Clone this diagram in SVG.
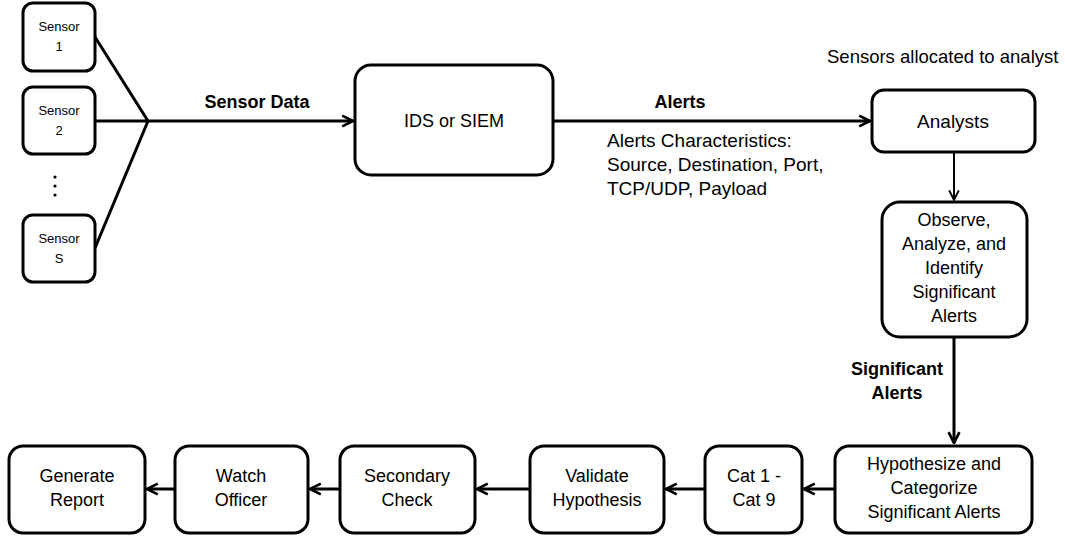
<svg xmlns="http://www.w3.org/2000/svg" width="1065" height="537" viewBox="0 0 1065 537">
  <style>
    .box { fill: #fff; stroke: #000; stroke-width: 3; }
    .lbl { font-family: "Liberation Sans", Arial, sans-serif; font-size: 18px; fill: #000; text-anchor: middle; }
    .sm { font-size: 13px; }
    .b { font-weight: bold; font-size: 18px; }
    .note { font-family: "Liberation Sans", Arial, sans-serif; font-size: 19px; fill: #000; }
    .wire { fill: none; stroke: #000; stroke-width: 3; }
    .thin { fill: none; stroke: #000; stroke-width: 2; }
  </style>
  <defs>
    <marker id="chev" viewBox="0 0 10 10" refX="9" refY="5" markerWidth="4.5" markerHeight="4.5" orient="auto" markerUnits="strokeWidth">
      <path d="M1,1 L9,5 L1,9" fill="none" stroke="#000" stroke-width="2"/>
    </marker>
    <marker id="chevT" viewBox="0 0 10 10" refX="9" refY="5" markerWidth="6" markerHeight="6" orient="auto" markerUnits="strokeWidth">
      <path d="M1,1 L9,5 L1,9" fill="none" stroke="#000" stroke-width="1.6"/>
    </marker>
  </defs>

  <!-- connectors -->
  <g id="connectors">
    <path class="wire" d="M95,37 L148,121 M95,121 L148,121 M95,248 L148,121"/>
    <line class="wire" x1="148" y1="121" x2="353" y2="121" marker-end="url(#chev)"/>
    <line class="wire" x1="553" y1="121" x2="870" y2="121" marker-end="url(#chev)"/>
    <line class="thin" x1="954" y1="152" x2="954" y2="200" marker-end="url(#chevT)"/>
    <line class="wire" x1="954" y1="337" x2="954" y2="443" marker-end="url(#chev)"/>
    <line class="wire" x1="835" y1="489" x2="804" y2="489" marker-end="url(#chev)"/>
    <line class="wire" x1="705" y1="489" x2="666" y2="489" marker-end="url(#chev)"/>
    <line class="wire" x1="530" y1="489" x2="477" y2="489" marker-end="url(#chev)"/>
    <line class="wire" x1="340" y1="489" x2="310" y2="489" marker-end="url(#chev)"/>
    <line class="wire" x1="175" y1="489" x2="147" y2="489" marker-end="url(#chev)"/>
  </g>

  <!-- connector labels -->
  <text class="lbl b" x="257" y="108">Sensor Data</text>
  <text class="lbl b" x="680" y="108">Alerts</text>
  <text class="note" x="607" y="147">Alerts Characteristics:</text>
  <text class="note" x="607" y="171">Source, Destination, Port,</text>
  <text class="note" x="607" y="195">TCP/UDP, Payload</text>
  <text class="note" x="827" y="63" style="font-size:18.5px">Sensors allocated to analyst</text>
  <text class="lbl b" x="897" y="375">Significant</text>
  <text class="lbl b" x="897" y="399">Alerts</text>

  <!-- sensor dots -->
  <g id="dots" fill="#000">
    <circle cx="55" cy="177" r="1.6"/>
    <circle cx="55" cy="186" r="1.6"/>
    <circle cx="55" cy="195" r="1.6"/>
  </g>

  <g id="sensor1">
    <rect class="box" x="23" y="3" width="72" height="68" rx="10"/>
    <text class="lbl sm" x="59" y="31">Sensor</text>
    <text class="lbl sm" x="59" y="51">1</text>
  </g>
  <g id="sensor2">
    <rect class="box" x="23" y="87" width="72" height="67" rx="10"/>
    <text class="lbl sm" x="59" y="115">Sensor</text>
    <text class="lbl sm" x="59" y="135">2</text>
  </g>
  <g id="sensorS">
    <rect class="box" x="23" y="215" width="72" height="67" rx="10"/>
    <text class="lbl sm" x="59" y="243">Sensor</text>
    <text class="lbl sm" x="59" y="263">S</text>
  </g>

  <g id="ids">
    <rect class="box" x="355" y="65" width="198" height="110" rx="16"/>
    <text class="lbl" x="454" y="127">IDS or SIEM</text>
  </g>

  <g id="analysts">
    <rect class="box" x="872" y="90" width="163" height="62" rx="12"/>
    <text class="lbl" x="953" y="128" style="font-size:19px">Analysts</text>
  </g>

  <g id="observe">
    <rect class="box" x="882" y="202" width="145" height="135" rx="18"/>
    <text class="lbl" x="954" y="226">Observe,</text>
    <text class="lbl" x="954" y="250">Analyze, and</text>
    <text class="lbl" x="954" y="274">Identify</text>
    <text class="lbl" x="954" y="298">Significant</text>
    <text class="lbl" x="954" y="322">Alerts</text>
  </g>

  <g id="hypothesize">
    <rect class="box" x="835" y="446" width="197" height="87" rx="14"/>
    <text class="lbl" x="934" y="470">Hypothesize and</text>
    <text class="lbl" x="934" y="494">Categorize</text>
    <text class="lbl" x="934" y="518">Significant Alerts</text>
  </g>

  <g id="cat">
    <rect class="box" x="705" y="446" width="97" height="87" rx="14"/>
    <text class="lbl" x="754" y="482">Cat 1 -</text>
    <text class="lbl" x="754" y="506">Cat 9</text>
  </g>

  <g id="validate">
    <rect class="box" x="530" y="446" width="134" height="87" rx="14"/>
    <text class="lbl" x="597" y="482">Validate</text>
    <text class="lbl" x="597" y="506">Hypothesis</text>
  </g>

  <g id="secondary">
    <rect class="box" x="340" y="446" width="135" height="87" rx="14"/>
    <text class="lbl" x="407" y="482">Secondary</text>
    <text class="lbl" x="407" y="506">Check</text>
  </g>

  <g id="watch">
    <rect class="box" x="175" y="446" width="133" height="87" rx="14"/>
    <text class="lbl" x="241" y="482">Watch</text>
    <text class="lbl" x="241" y="506">Officer</text>
  </g>

  <g id="generate">
    <rect class="box" x="9" y="446" width="136" height="87" rx="14"/>
    <text class="lbl" x="77" y="482">Generate</text>
    <text class="lbl" x="77" y="506">Report</text>
  </g>
</svg>
